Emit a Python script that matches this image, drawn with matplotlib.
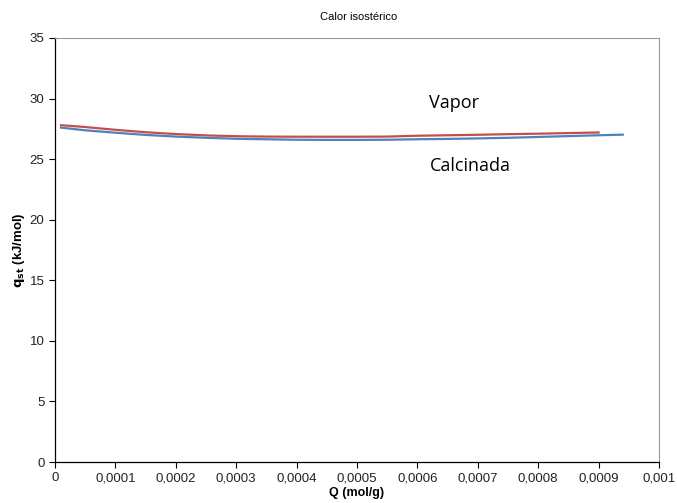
import matplotlib
matplotlib.use("Agg")
import matplotlib.pyplot as plt
from matplotlib.ticker import FuncFormatter

# Isosteric heat of adsorption vs loading
q_vapor = [0.00001, 0.00005, 0.0001, 0.00015, 0.0002, 0.00025, 0.0003, 0.00035,
           0.0004, 0.00045, 0.0005, 0.00055, 0.0006, 0.00065, 0.0007, 0.00075,
           0.0008, 0.00085, 0.0009]
h_vapor = [27.8, 27.65, 27.42, 27.22, 27.07, 26.96, 26.89, 26.86,
           26.85, 26.85, 26.85, 26.86, 26.93, 26.97, 27.01, 27.06,
           27.1, 27.15, 27.2]

q_calc = [0.00001, 0.00005, 0.0001, 0.00015, 0.0002, 0.00025, 0.0003, 0.00035,
          0.0004, 0.00045, 0.0005, 0.00055, 0.0006, 0.00065, 0.0007, 0.00075,
          0.0008, 0.00085, 0.0009, 0.00094]
h_calc = [27.6, 27.38, 27.18, 27.0, 26.86, 26.76, 26.68, 26.64,
          26.6, 26.59, 26.59, 26.6, 26.64, 26.67, 26.71, 26.76,
          26.83, 26.9, 26.97, 27.02]

x_ticks = [0, 0.0001, 0.0002, 0.0003, 0.0004, 0.0005, 0.0006, 0.0007, 0.0008, 0.0009, 0.001]
y_ticks = [0, 5, 10, 15, 20, 25, 30, 35]

plt.rcParams['font.family'] = ['Liberation Sans', 'DejaVu Sans']

fig = plt.figure(figsize=(6.77, 5.03), dpi=100)
ax = fig.add_axes([0.0812, 0.0815, 0.8922, 0.843])

ax.plot(q_calc, h_calc, color='#4F81BD', lw=1.6)
ax.plot(q_vapor, h_vapor, color='#C0504D', lw=1.6)

ax.set_xlim(0, 0.001)
ax.set_ylim(0, 35)
ax.set_xticks(x_ticks)
ax.set_yticks(y_ticks)

def comma_fmt(v, pos):
    if abs(v) < 1e-12:
        return '0'
    s = f'{v:.4f}'.rstrip('0')
    return s.replace('.', ',')

ax.xaxis.set_major_formatter(FuncFormatter(comma_fmt))
ax.tick_params(direction='out', length=4, width=0.8, labelsize=9.5,
               colors='black', labelcolor='#222222')

for side in ('top', 'right'):
    ax.spines[side].set_color('#9a9a9a')
    ax.spines[side].set_linewidth(0.8)
for side in ('left', 'bottom'):
    ax.spines[side].set_color('black')
    ax.spines[side].set_linewidth(0.9)

ax.text(0.00062, 29.6, 'Vapor', fontsize=13, family=['Open Sans', 'DejaVu Sans'],
        ha='left', va='center', color='black')
ax.text(0.00062, 24.4, 'Calcinada', fontsize=13, family=['Open Sans', 'DejaVu Sans'],
        ha='left', va='center', color='black')

fig.text(0.529, 0.966, 'Calor isostérico', fontsize=8, ha='center', va='center')
ax.set_xlabel('Q (mol/g)', fontsize=9, fontweight='bold', labelpad=2)
ax.set_ylabel(r'$\mathbf{q_{st}}$ (kJ/mol)', fontsize=9.5, fontweight='bold', labelpad=2)

fig.savefig('out.png', dpi=100)
